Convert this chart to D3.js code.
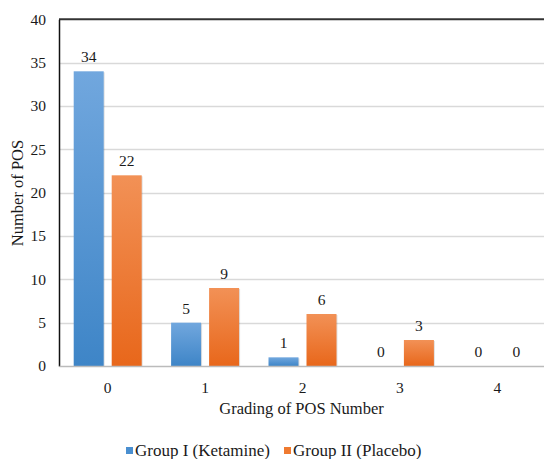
<!DOCTYPE html>
<html><head><meta charset="utf-8"><script src="https://cdn.jsdelivr.net/npm/d3@7"></script></head><body style="margin:0">
<svg id="c" width="544" height="459"></svg>
<script>
const categories = ["0","1","2","3","4"];
const seriesNames = ["Group I (Ketamine)","Group II (Placebo)"];
const ketamine = [34,5,1,0,0];
const placebo = [22,9,6,3,0];
const yTicks = [0,5,10,15,20,25,30,35,40];

const FONT = "Liberation Serif";
const svg = d3.select("#c");
const m = {l:59, r:-2};
const W = 544;
const x = d3.scaleBand().domain(categories).range([m.l, W - m.r]);
const y = d3.scaleLinear().domain([0,40]).range([366, 19.3]);

const defs = svg.append("defs");
const grads = [["gb","#71a7de","#3e85c7"],["go","#f29156","#e8671b"]];
grads.forEach(([id,c1,c2])=>{
  const g = defs.append("linearGradient").attr("id",id).attr("x1",0).attr("y1",0).attr("x2",0).attr("y2",1);
  g.append("stop").attr("offset","0%").attr("stop-color",c1);
  g.append("stop").attr("offset","100%").attr("stop-color",c2);
});

function txt(sel, size){
  return sel.attr("font-family", FONT).style("font-family", FONT)
    .attr("font-size", size).style("font-size", size+"px").attr("fill","#1a1a1a");
}

// gridlines
svg.append("g").selectAll("line").data(yTicks.filter(d=>d>0&&d<40)).join("line")
  .attr("x1",m.l).attr("x2",W).attr("y1",d=>Math.round(y(d))+0.5).attr("y2",d=>Math.round(y(d))+0.5)
  .attr("stroke","#d9d9d9").attr("stroke-width",1.3);
// top border
svg.append("line").attr("x1",m.l).attr("x2",W).attr("y1",y(40)).attr("y2",y(40)).attr("stroke","#333").attr("stroke-width",2);

// bars (subtle shadow drawn as offset translucent rect)
const bw = 30, off = 19;
const series = [ketamine, placebo];
const cxOf = (si,c)=> x(c) + x.bandwidth()/2 + (si===0?-off:off);
series.forEach((vals,si)=>{
  svg.append("g").selectAll("rect").data(categories).join("rect")
    .attr("x",c=>cxOf(si,c)-bw/2+1).attr("width",bw)
    .attr("y",(c,i)=>y(vals[i])+1).attr("height",(c,i)=>Math.max(0,y(0)-y(vals[i])-1))
    .attr("fill","#000").attr("opacity",0.12);
  svg.append("g").selectAll("rect").data(categories).join("rect")
    .attr("x",c=>cxOf(si,c)-bw/2).attr("width",bw)
    .attr("y",(c,i)=>y(vals[i])).attr("height",(c,i)=>y(0)-y(vals[i]))
    .attr("fill",si===0?"url(#gb)":"url(#go)");
});

// y axis
const ya = svg.append("g").attr("transform",`translate(${m.l},0)`)
  .call(d3.axisLeft(y).tickValues(yTicks).tickSize(0).tickPadding(13));
ya.attr("font-family", FONT);
ya.select(".domain").attr("stroke","#111").attr("stroke-width",1.5);
txt(ya.selectAll("text"), 15.5);

// x axis
const xa = svg.append("g").attr("transform",`translate(0,${y(0)})`)
  .call(d3.axisBottom(x).tickSize(0).tickPadding(16));
xa.attr("font-family", FONT);
xa.select(".domain").attr("stroke","#bbb").attr("stroke-width",1.3);
txt(xa.selectAll("text"), 15.5);

// data labels
series.forEach((vals,si)=>{
  categories.forEach((c,i)=>{
    txt(svg.append("text").attr("x",cxOf(si,c)).attr("y",y(vals[i])-9)
      .attr("text-anchor","middle").text(vals[i]), 15.5);
  });
});

// axis titles
txt(svg.append("text").attr("x",(m.l+W)/2).attr("y",414).attr("text-anchor","middle").text("Grading of POS Number"), 16.5);
txt(svg.append("text").attr("transform","translate(23,193) rotate(-90)").attr("text-anchor","middle").text("Number of POS"), 16.5);

// legend
const lg = [[126,"#4a8fd0",seriesNames[0]],[284,"#ef7a30",seriesNames[1]]];
lg.forEach(([lx,c,t])=>{
  svg.append("rect").attr("x",lx).attr("y",447).attr("width",7).attr("height",7).attr("fill",c);
  txt(svg.append("text").attr("x",lx+9).attr("y",456).text(t), 17);
});
</script></body></html>
